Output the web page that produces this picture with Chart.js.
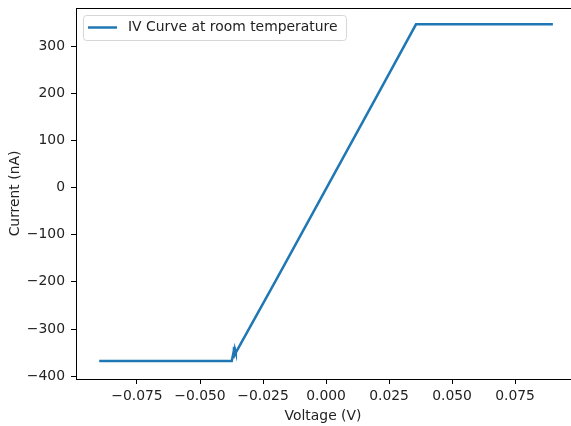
<!DOCTYPE html>
<html>
<head>
<meta charset="utf-8">
<title>IV Curve</title>
<script src="https://cdn.jsdelivr.net/npm/chart.js@4/dist/chart.umd.min.js"></script>
<style>
  html, body { margin: 0; padding: 0; background: #fff; overflow: hidden; }
  canvas { display: block; }
</style>
</head>
<body>
<canvas id="chart" width="571" height="426"></canvas>
<script>
// sweep data: voltage in V, current in nA
var voltage = [-0.090, -0.060, -0.0374, -0.0369, -0.0367, -0.0365, -0.0363, -0.0361, -0.0358, -0.020, 0.000, 0.020, 0.0357, 0.060, 0.090];
var current = [-368, -368, -368, -355, -362, -338, -356, -344, -350, -198, -3, 192, 346, 346, 346];

var xTicks = [-0.075, -0.050, -0.025, 0.000, 0.025, 0.050, 0.075];
var yTicks = [-400, -300, -200, -100, 0, 100, 200, 300];

var seriesLabel = 'IV Curve at room temperature';
var lineColor = '#1f77b4';
var fontFamily = '"DejaVu Sans", sans-serif';
var fontSize = 13.9;

var points = voltage.map(function (v, i) {
    return { x: v, y: current[i] };
});

function minus(s) {
    return s.replace('-', '\u2212');
}

// top spine + legend box in the upper left corner
var framePlugin = {
    id: 'frame',
    afterDraw: function (chart) {
        var ctx = chart.ctx;
        var area = chart.chartArea;
        ctx.save();
        ctx.strokeStyle = '#000';
        ctx.lineWidth = 1;
        ctx.beginPath();
        ctx.moveTo(area.left, area.top + 0.5);
        ctx.lineTo(chart.width, area.top + 0.5);
        ctx.stroke();

        ctx.font = fontSize + 'px ' + fontFamily;
        var textX = 128;
        var midY = 27.5;
        var boxX = 83.5, boxY = 15.5, boxH = 25;
        var boxW = textX + ctx.measureText(seriesLabel).width + 9 - boxX;
        var r = 3;
        ctx.beginPath();
        ctx.moveTo(boxX + r, boxY);
        ctx.arcTo(boxX + boxW, boxY, boxX + boxW, boxY + boxH, r);
        ctx.arcTo(boxX + boxW, boxY + boxH, boxX, boxY + boxH, r);
        ctx.arcTo(boxX, boxY + boxH, boxX, boxY, r);
        ctx.arcTo(boxX, boxY, boxX + boxW, boxY, r);
        ctx.closePath();
        ctx.fillStyle = 'rgba(255,255,255,0.8)';
        ctx.fill();
        ctx.strokeStyle = '#d6d6d6';
        ctx.stroke();

        ctx.strokeStyle = lineColor;
        ctx.lineWidth = 2.5;
        ctx.beginPath();
        ctx.moveTo(88, midY);
        ctx.lineTo(117, midY);
        ctx.stroke();

        ctx.fillStyle = '#222';
        ctx.textBaseline = 'middle';
        ctx.textAlign = 'left';
        ctx.fillText(seriesLabel, textX, midY);
        ctx.restore();
    }
};

var ctx = document.getElementById('chart').getContext('2d');
var myChart = new Chart(ctx, {
    type: 'scatter',
    data: {
        datasets: [{
            label: seriesLabel,
            data: points,
            showLine: true,
            borderColor: lineColor,
            backgroundColor: lineColor,
            borderWidth: 2.5,
            pointRadius: 0,
            tension: 0
        }]
    },
    options: {
        responsive: false,
        animation: false,
        devicePixelRatio: 1,
        layout: { padding: { top: 8, right: 1, left: 0, bottom: 0 } },
        plugins: {
            legend: { display: false },
            tooltip: { enabled: false }
        },
        scales: {
            x: {
                type: 'linear',
                position: 'bottom',
                min: -0.0992,
                max: 0.0968,
                afterFit: function (scale) {
                    scale.height = 47;
                    scale.paddingLeft = 0;
                    scale.paddingRight = 0;
                },
                afterBuildTicks: function (scale) {
                    scale.ticks = xTicks.map(function (v) { return { value: v }; });
                },
                ticks: {
                    autoSkip: false,
                    maxRotation: 0,
                    padding: 4,
                    color: '#222',
                    font: { family: fontFamily, size: fontSize },
                    callback: function (value) { return minus(value.toFixed(3)); }
                },
                grid: {
                    drawOnChartArea: false,
                    drawTicks: true,
                    tickLength: 5,
                    tickColor: '#000',
                    tickWidth: 1
                },
                border: { display: true, color: '#000', width: 1 },
                title: {
                    display: true,
                    text: 'Voltage (V)',
                    color: '#222',
                    font: { family: fontFamily, size: fontSize },
                    padding: { top: 0, bottom: 1 }
                }
            },
            y: {
                min: -406,
                max: 380.6,
                afterFit: function (scale) {
                    scale.width = 76;
                    scale.paddingTop = 0;
                    scale.paddingBottom = 0;
                },
                afterBuildTicks: function (scale) {
                    scale.ticks = yTicks.map(function (v) { return { value: v }; });
                },
                ticks: {
                    autoSkip: false,
                    padding: 6,
                    color: '#222',
                    font: { family: fontFamily, size: fontSize },
                    callback: function (value) { return minus(String(Math.round(value))); }
                },
                grid: {
                    drawOnChartArea: false,
                    drawTicks: true,
                    tickLength: 5,
                    tickColor: '#000',
                    tickWidth: 1
                },
                border: { display: true, color: '#000', width: 1 },
                title: {
                    display: true,
                    text: 'Current (nA)',
                    color: '#222',
                    font: { family: fontFamily, size: fontSize },
                    padding: { top: 7, bottom: 0 }
                }
            }
        }
    },
    plugins: [framePlugin]
});
</script>
</body>
</html>
